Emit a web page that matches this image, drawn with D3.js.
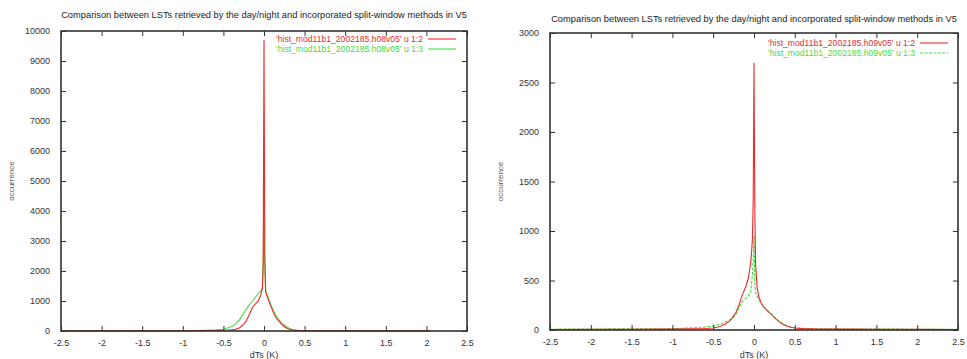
<!DOCTYPE html>
<html><head><meta charset="utf-8">
<script src="https://cdn.jsdelivr.net/npm/d3@7"></script>
<style>
html,body{margin:0;padding:0;background:#fff;}
svg{display:block;font-family:"Liberation Sans",Arial,sans-serif;}
</style></head>
<body>
<svg id="c" width="967" height="359"></svg>
<script>
const titleText = "Comparison between LSTs retrieved by the day/night and incorporated split-window methods in V5";
const xTicks = [-2.5, -2, -1.5, -1, -0.5, 0, 0.5, 1, 1.5, 2, 2.5];
const xTickLabels = ["-2.5", "-2", "-1.5", "-1", "-0.5", "0", "0.5", "1", "1.5", "2", "2.5"];
const leftYTicks = [0, 1000, 2000, 3000, 4000, 5000, 6000, 7000, 8000, 9000, 10000];
const rightYTicks = [0, 500, 1000, 1500, 2000, 2500, 3000];
const leftLegend = ["'hist_mod11b1_2002185.h08v05' u 1:2", "'hist_mod11b1_2002185.h08v05' u 1:3"];
const rightLegend = ["'hist_mod11b1_2002185.h09v05' u 1:2", "'hist_mod11b1_2002185.h09v05' u 1:3"];

const leftX = [-2.5, -2, -1.75, -1.5, -1.2, -1.0, -0.8, -0.6, -0.5, -0.45, -0.4, -0.35, -0.3, -0.26, -0.22, -0.18, -0.14, -0.1, -0.07, -0.04, -0.02, -0.01, 0, 0.01, 0.02, 0.04, 0.07, 0.1, 0.13, 0.16, 0.19, 0.23, 0.27, 0.31, 0.35, 0.4, 0.45, 0.5, 0.6, 0.8, 1.0, 1.5, 2.0, 2.05];
const leftRed = [0, 5, 10, 5, 5, 10, 15, 20, 25, 30, 40, 55, 110, 200, 330, 550, 800, 920, 1000, 1200, 1400, 2200, 9700, 2600, 1300, 1150, 920, 720, 530, 400, 300, 190, 110, 60, 30, 20, 15, 10, 8, 5, 5, 5, 3, 0];
const leftGreen = [0, 5, 5, 5, 8, 10, 15, 30, 60, 100, 150, 220, 380, 560, 720, 880, 1000, 1150, 1250, 1330, 1450, 2300, 4300, 2100, 1350, 1200, 980, 780, 600, 460, 350, 240, 150, 90, 50, 30, 20, 15, 10, 8, 6, 5, 4, 0];

const rightX = [-2.5, -2.0, -1.5, -1.2, -1.0, -0.8, -0.6, -0.5, -0.45, -0.4, -0.35, -0.3, -0.26, -0.22, -0.18, -0.15, -0.13, -0.1, -0.07, -0.04, -0.02, -0.01, 0, 0.01, 0.02, 0.04, 0.06, 0.09, 0.12, 0.15, 0.18, 0.21, 0.25, 0.29, 0.33, 0.37, 0.41, 0.45, 0.5, 0.6, 0.8, 1.0, 1.2, 1.5, 2.0, 2.5];
const rightRed = [5, 8, 8, 10, 10, 12, 15, 20, 28, 40, 60, 90, 130, 180, 260, 340, 380, 440, 520, 680, 900, 1300, 2700, 1200, 650, 420, 330, 270, 230, 205, 180, 160, 125, 95, 70, 50, 38, 28, 20, 14, 10, 10, 9, 8, 6, 5];
const rightGreen = [8, 10, 12, 12, 14, 20, 30, 40, 50, 60, 80, 100, 120, 160, 230, 280, 300, 320, 340, 380, 560, 700, 950, 480, 380, 340, 300, 270, 230, 210, 185, 165, 130, 100, 75, 55, 40, 30, 22, 15, 12, 11, 10, 9, 8, 7];

const svg = d3.select("#c");
const RED = "#ee2a2a", GREEN = "#3ee03e", INK = "#333";

function panel(cfg) {
  const {left, right, top, bottom, yMax, yTicks, xs, red, green, legend, greenDash, titleY, labelEnd, legendY} = cfg;
  const x = d3.scaleLinear().domain([-2.5, 2.5]).range([left, right]);
  const y = d3.scaleLinear().domain([0, yMax]).range([bottom, top]);
  const g = svg.append("g");

  g.append("text").attr("x", (left + right) / 2).attr("y", titleY)
    .attr("text-anchor", "middle").attr("font-size", 9.3).attr("fill", "#222").text(titleText);

  // data
  const line = d3.line().x((d, i) => x(xs[i])).y(d => y(d));
  g.append("path").datum(green).attr("d", line).attr("fill", "none")
    .attr("stroke", GREEN).attr("stroke-width", 1.1).attr("stroke-dasharray", greenDash);
  g.append("path").datum(red).attr("d", line).attr("fill", "none")
    .attr("stroke", RED).attr("stroke-width", 1.1);

  // axes with inner ticks (mirrored)
  const ax = g.append("g").attr("font-size", 9).attr("fill", INK);
  const bottomAxis = d3.axisBottom(x).tickValues(xTicks).tickSizeInner(-5).tickSizeOuter(0)
    .tickPadding(9).tickFormat((d, i) => xTickLabels[i]);
  const gb = ax.append("g").attr("transform", `translate(0,${bottom})`).call(bottomAxis);
  const topAxis = d3.axisTop(x).tickValues(xTicks).tickSizeInner(-5).tickSizeOuter(0).tickFormat("");
  const gt = ax.append("g").attr("transform", `translate(0,${top})`).call(topAxis);
  const leftAxis = d3.axisLeft(y).tickValues(yTicks).tickSizeInner(-5).tickSizeOuter(0)
    .tickPadding(11).tickFormat(d3.format("d"));
  const gl = ax.append("g").attr("transform", `translate(${left},0)`).call(leftAxis);
  const rightAxis = d3.axisRight(y).tickValues(yTicks).tickSizeInner(-5).tickSizeOuter(0).tickFormat("");
  const gr = ax.append("g").attr("transform", `translate(${right},0)`).call(rightAxis);
  [gb, gt, gl, gr].forEach(s => {
    s.attr("font-family", null).attr("font-size", 9);
    s.select(".domain").remove();
    s.selectAll("line").attr("stroke", INK).attr("stroke-width", 1);
    s.selectAll("text").attr("fill", INK);
  });
  g.append("rect").attr("x", left).attr("y", top).attr("width", right - left).attr("height", bottom - top)
    .attr("fill", "none").attr("stroke", INK).attr("stroke-width", 1.6);

  // axis titles
  g.append("text").attr("transform", `translate(${left - 47},${(top + bottom) / 2}) rotate(-90)`)
    .attr("text-anchor", "middle").attr("font-size", 8).attr("fill", "#555").text("occurrence");
  g.append("text").attr("x", x(0)).attr("y", 358).attr("text-anchor", "middle")
    .attr("font-size", 9).attr("fill", INK).text("dTs (K)");

  // legend
  [[legend[0], RED, null], [legend[1], GREEN, greenDash]].forEach((l, i) => {
    const ly = legendY + i * 10;
    g.append("text").attr("x", labelEnd).attr("y", ly + 3).attr("text-anchor", "end")
      .attr("font-size", 8.6).attr("fill", l[1]).text(l[0]);
    g.append("line").attr("x1", labelEnd + 5).attr("x2", labelEnd + 33).attr("y1", ly).attr("y2", ly)
      .attr("stroke", l[1]).attr("stroke-width", 1.1).attr("stroke-dasharray", l[2]);
  });
}

panel({left: 61, right: 467, top: 31, bottom: 331, yMax: 10000, yTicks: leftYTicks,
  xs: leftX, red: leftRed, green: leftGreen, legend: leftLegend, greenDash: null,
  titleY: 18, labelEnd: 423, legendY: 39});
panel({left: 550, right: 958, top: 33, bottom: 330, yMax: 3000, yTicks: rightYTicks,
  xs: rightX, red: rightRed, green: rightGreen, legend: rightLegend, greenDash: "3,1.5",
  titleY: 22, labelEnd: 915, legendY: 43});
</script>
</body></html>
